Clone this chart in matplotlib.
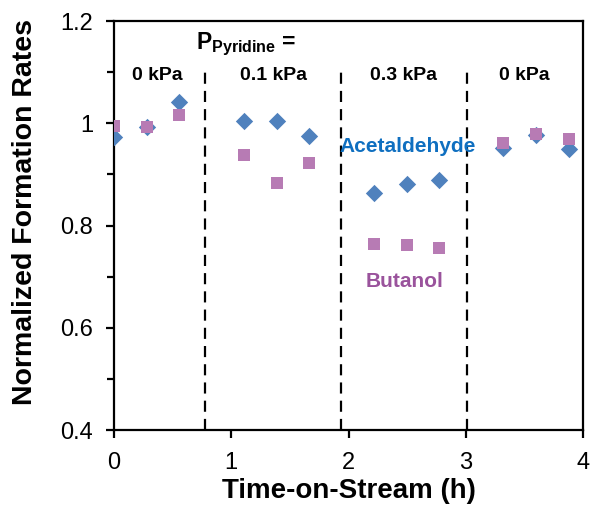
import matplotlib
matplotlib.use('Agg')
import matplotlib.pyplot as plt
from matplotlib.ticker import MultipleLocator

plt.rcParams['font.family'] = ['Liberation Sans', 'DejaVu Sans']
plt.rcParams['mathtext.fontset'] = 'custom'
plt.rcParams['mathtext.rm'] = 'Liberation Sans'
plt.rcParams['mathtext.bf'] = 'Liberation Sans:bold'

# time-on-stream (h)
t = [0.0, 0.279, 0.557, 1.109, 1.387, 1.66, 2.217, 2.496, 2.772, 3.32, 3.599, 3.883]
acetaldehyde = [0.974, 0.993, 1.041, 1.004, 1.004, 0.975, 0.864, 0.882, 0.890, 0.952, 0.977, 0.949]
butanol = [0.995, 0.993, 1.017, 0.938, 0.884, 0.923, 0.764, 0.762, 0.757, 0.962, 0.979, 0.970]

switch_times = [0.78, 1.935, 3.01]
segment_labels = ['0 kPa', '0.1 kPa', '0.3 kPa', '0 kPa']
segment_centers = [0.373, 1.356, 2.465, 3.497]

blue = '#4f81bd'
pink = '#b77bb4'

fig = plt.figure(figsize=(5.92, 5.14), dpi=100)
ax = fig.add_axes([0.1926, 0.1634, 0.7922, 0.7957])

ax.scatter(t, acetaldehyde, marker='D', s=78, color=blue, zorder=3, linewidths=0)
ax.scatter(t, butanol, marker='s', s=85, color=pink, zorder=4, linewidths=0)

ax.vlines(switch_times, 0.4, 1.1, color='black', lw=1.6, linestyles=(0, (5, 3.2)), zorder=1)

for xc, lab in zip(segment_centers, segment_labels):
    ax.text(xc, 1.094, lab, ha='center', va='center', fontsize=14, fontweight='bold')

ax.text(1.13, 1.154, r'$\mathbf{P_{Pyridine}}$ =', ha='center', va='center',
        fontsize=16.5, fontweight='bold')
ax.text(2.507, 0.954, 'Acetaldehyde', color='#0f6fc0', ha='center', va='center',
        fontsize=15, fontweight='bold')
ax.text(2.48, 0.69, 'Butanol', color='#9a539c', ha='center', va='center',
        fontsize=15, fontweight='bold')

ax.set_xlim(0, 4)
ax.set_ylim(0.4, 1.2)
ax.xaxis.set_major_locator(MultipleLocator(1))
ax.yaxis.set_minor_locator(MultipleLocator(0.1))
ax.set_yticks([0.4, 0.6, 0.8, 1.0, 1.2])
ax.set_yticklabels(['0.4', '0.6', '0.8', '1', '1.2'])

for sp in ax.spines.values():
    sp.set_linewidth(1.6)
ax.tick_params(which='major', direction='out', length=6, width=1.6, labelsize=17)
ax.tick_params(which='minor', direction='out', length=5, width=1.6)
ax.tick_params(axis='y', pad=9)
ax.tick_params(axis='x', pad=9.5)

ax.set_xlabel('Time-on-Stream (h)', fontsize=20, fontweight='bold', labelpad=3)
ax.set_ylabel('Normalized Formation Rates', fontsize=20.5, fontweight='bold', labelpad=16)
ax.yaxis.label.set_y(0.532)

plt.savefig('out.png', dpi=100)
